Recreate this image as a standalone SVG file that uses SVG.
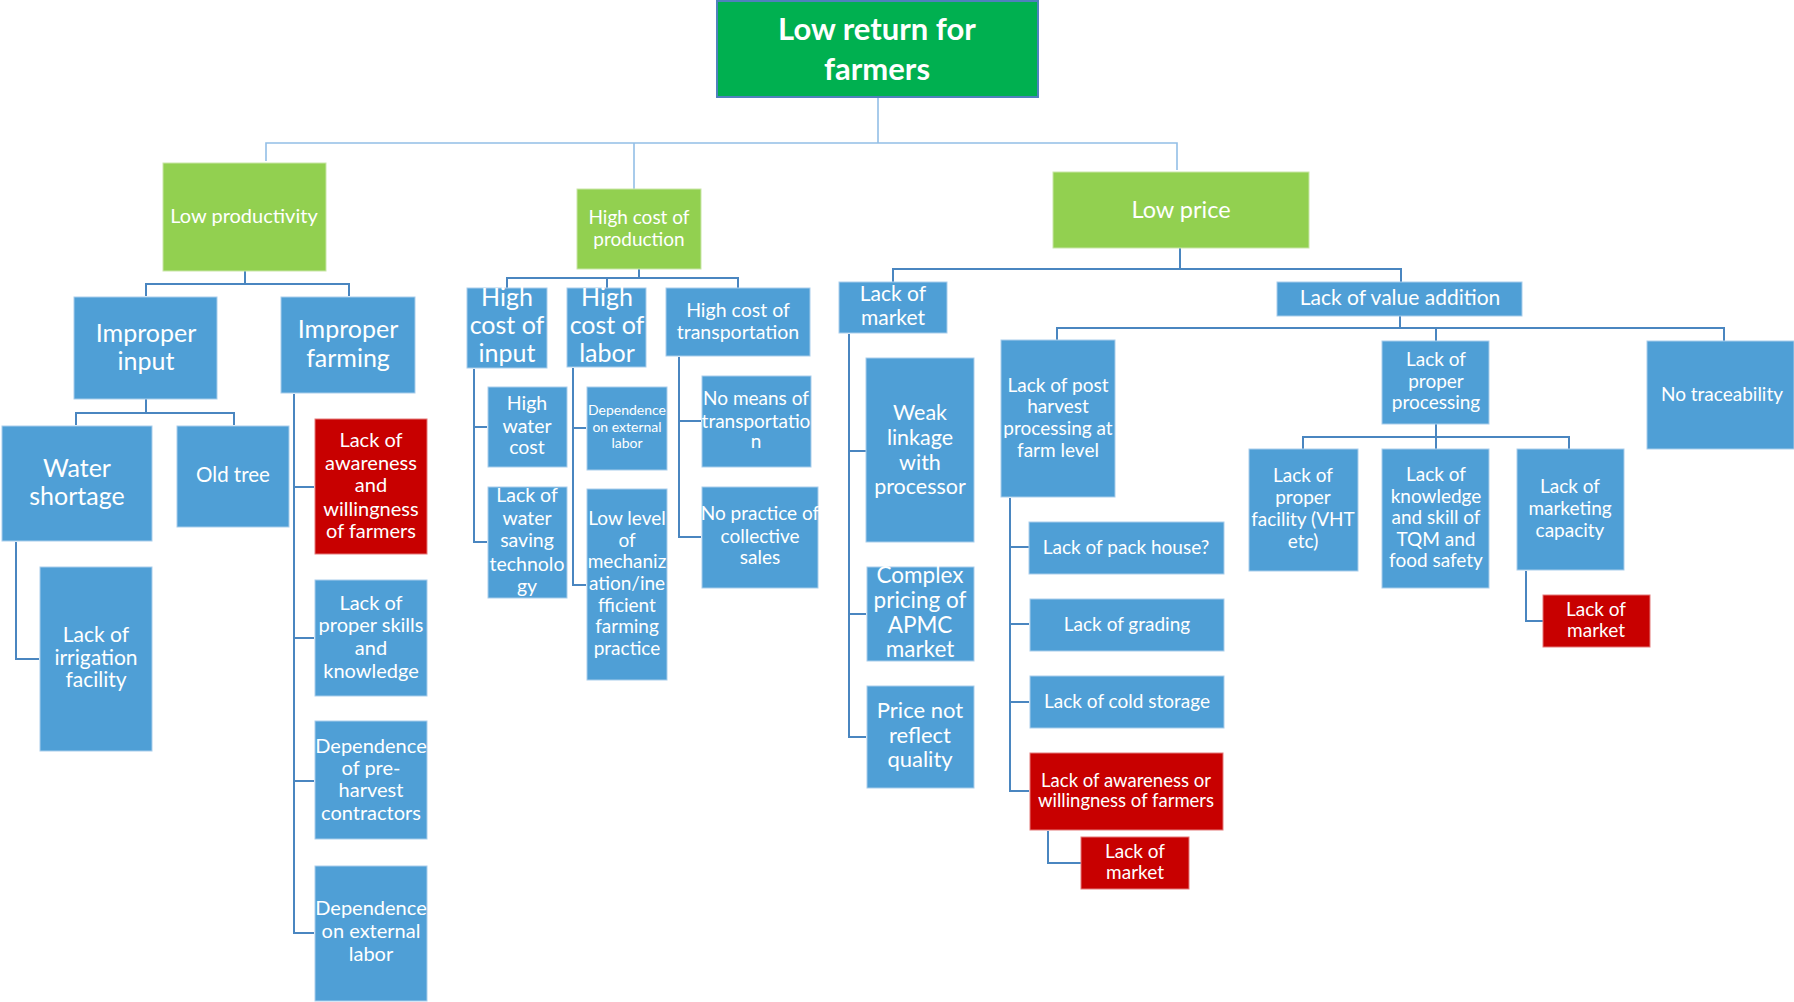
<svg xmlns="http://www.w3.org/2000/svg" width="1794" height="1002" viewBox="0 0 1794 1002">
  <style>
    .bg { fill: #ffffff; }
    .root { fill: #00B050; stroke: #4F81BD; stroke-width: 2; }
    .lvl1 { fill: #92D050; stroke: #C9E6A8; stroke-width: 1; }
    .box { fill: #4F9FD6; stroke: #A9CDEB; stroke-width: 1; }
    .red { fill: #C80000; stroke: #E47A7A; stroke-width: 1; }
    .t { font-family: Lato, "Liberation Sans", Arial, sans-serif; fill: #ffffff; text-anchor: middle; }
    .tb { font-weight: bold; }
    .link { fill: none; stroke: #4A86C0; stroke-width: 2; }
    .link-top { fill: none; stroke: #93BFE6; stroke-width: 1.6; }
  </style>
  <rect class="bg" x="0" y="0" width="1794" height="1002"/>

  <!-- connectors -->
  <g id="connectors">
    <path class="link-top" d="M878,97 V143 M266,161 V143 H1177 V170 M634,143 V189"/>
    <path class="link" d="M245,271 V284 M146,296 V284 H349 V296"/>
    <path class="link" d="M146,399 V413 M76,425 V413 H234 V425"/>
    <path class="link" d="M16,542 V659 H39"/>
    <path class="link" d="M294,394 V933 H314 M294,487 H314 M294,638 H314 M294,781 H314"/>
    <path class="link" d="M639,269 V278 M507,288 V278 H738 V288 M607,278 V288"/>
    <path class="link" d="M474,369 V542 H487 M474,427 H487"/>
    <path class="link" d="M573,368 V585 H586 M573,428 H586"/>
    <path class="link" d="M679,357 V537 H701 M679,421 H701"/>
    <path class="link" d="M1180,248 V269 M893,282 V269 H1401 V282"/>
    <path class="link" d="M849,334 V737 H866 M849,451 H866 M849,614 H866"/>
    <path class="link" d="M1400,316 V328 M1057,340 V328 H1724 V341 M1436,328 V341"/>
    <path class="link" d="M1010,498 V791 H1029 M1010,547 H1029 M1010,624 H1029 M1010,702 H1029"/>
    <path class="link" d="M1048,831 V863 H1081"/>
    <path class="link" d="M1436,424 V437 M1303,449 V437 H1569 V449 M1436,437 V449"/>
    <path class="link" d="M1526,571 V621 H1543"/>
  </g>

  <!-- root -->
  <g id="n-root">
    <rect class="root" x="717" y="1" width="321" height="96"/>
    <text class="t tb" font-size="31" x="877"><tspan x="877" y="40">Low return for</tspan><tspan x="877" y="80">farmers</tspan></text>
  </g>

  <!-- first level -->
  <g id="n-low-productivity">
    <rect class="lvl1" x="163" y="163" width="163" height="108"/>
    <text class="t" font-size="20" x="244" y="223">Low productivity</text>
  </g>
  <g id="n-high-cost-production">
    <rect class="lvl1" x="577" y="189" width="124" height="80"/>
    <text class="t" font-size="19"><tspan x="639" y="224">High cost of</tspan><tspan x="639" y="246">production</tspan></text>
  </g>
  <g id="n-low-price">
    <rect class="lvl1" x="1053" y="172" width="256" height="76"/>
    <text class="t" font-size="23.5" x="1181" y="218">Low price</text>
  </g>

  <!-- low productivity branch -->
  <g id="n-improper-input">
    <rect class="box" x="74" y="297" width="143" height="102"/>
    <text class="t" font-size="25"><tspan x="146" y="342">Improper</tspan><tspan x="146" y="370">input</tspan></text>
  </g>
  <g id="n-improper-farming">
    <rect class="box" x="281" y="297" width="134" height="96"/>
    <text class="t" font-size="25"><tspan x="348" y="338">Improper</tspan><tspan x="348" y="367">farming</tspan></text>
  </g>
  <g id="n-water-shortage">
    <rect class="box" x="2" y="426" width="150" height="115"/>
    <text class="t" font-size="25"><tspan x="77" y="477">Water</tspan><tspan x="77" y="505">shortage</tspan></text>
  </g>
  <g id="n-old-tree">
    <rect class="box" x="177" y="426" width="112" height="101"/>
    <text class="t" font-size="20.5" x="233" y="482">Old tree</text>
  </g>
  <g id="n-irrigation">
    <rect class="box" x="40" y="567" width="112" height="184"/>
    <text class="t" font-size="21"><tspan x="96" y="642">Lack of</tspan><tspan x="96" y="665">irrigation</tspan><tspan x="96" y="687">facility</tspan></text>
  </g>
  <g id="n-awareness-willingness">
    <rect class="red" x="315" y="419" width="112" height="135"/>
    <text class="t" font-size="20"><tspan x="371" y="447">Lack of</tspan><tspan x="371" y="470">awareness</tspan><tspan x="371" y="492">and</tspan><tspan x="371" y="516">willingness</tspan><tspan x="371" y="538">of farmers</tspan></text>
  </g>
  <g id="n-skills-knowledge">
    <rect class="box" x="315" y="580" width="112" height="116"/>
    <text class="t" font-size="20"><tspan x="371" y="610">Lack of</tspan><tspan x="371" y="632">proper skills</tspan><tspan x="371" y="655">and</tspan><tspan x="371" y="678">knowledge</tspan></text>
  </g>
  <g id="n-pre-harvest-contractors">
    <rect class="box" x="315" y="721" width="112" height="118"/>
    <text class="t" font-size="20"><tspan x="371" y="753">Dependence</tspan><tspan x="371" y="775">of pre-</tspan><tspan x="371" y="797">harvest</tspan><tspan x="371" y="820">contractors</tspan></text>
  </g>
  <g id="n-external-labor-farming">
    <rect class="box" x="315" y="866" width="112" height="135"/>
    <text class="t" font-size="20"><tspan x="371" y="915">Dependence</tspan><tspan x="371" y="938">on external</tspan><tspan x="371" y="961">labor</tspan></text>
  </g>

  <!-- high cost of production branch -->
  <g id="n-cost-input">
    <rect class="box" x="467" y="288" width="80" height="80"/>
    <text class="t" font-size="25"><tspan x="507" y="306">High</tspan><tspan x="507" y="334">cost of</tspan><tspan x="507" y="362">input</tspan></text>
  </g>
  <g id="n-cost-labor">
    <rect class="box" x="567" y="288" width="79" height="79"/>
    <text class="t" font-size="25"><tspan x="607" y="306">High</tspan><tspan x="607" y="334">cost of</tspan><tspan x="607" y="362">labor</tspan></text>
  </g>
  <g id="n-cost-transport">
    <rect class="box" x="666" y="288" width="144" height="68"/>
    <text class="t" font-size="19.5"><tspan x="738" y="317">High cost of</tspan><tspan x="738" y="339">transportation</tspan></text>
  </g>
  <g id="n-water-cost">
    <rect class="box" x="488" y="387" width="79" height="80"/>
    <text class="t" font-size="19.5"><tspan x="527" y="410">High</tspan><tspan x="527" y="433">water</tspan><tspan x="527" y="454">cost</tspan></text>
  </g>
  <g id="n-water-saving">
    <rect class="box" x="488" y="487" width="79" height="111"/>
    <text class="t" font-size="19.5"><tspan x="527" y="502">Lack of</tspan><tspan x="527" y="525">water</tspan><tspan x="527" y="547">saving</tspan><tspan x="527" y="571">technolo</tspan><tspan x="527" y="593">gy</tspan></text>
  </g>
  <g id="n-external-labor-cost">
    <rect class="box" x="587" y="387" width="80" height="83"/>
    <text class="t" font-size="14"><tspan x="627" y="415">Dependence</tspan><tspan x="627" y="432">on external</tspan><tspan x="627" y="448">labor</tspan></text>
  </g>
  <g id="n-mechanization">
    <rect class="box" x="587" y="489" width="80" height="191"/>
    <text class="t" font-size="19"><tspan x="627" y="525">Low level</tspan><tspan x="627" y="547">of</tspan><tspan x="627" y="568">mechaniz</tspan><tspan x="627" y="590">ation/ine</tspan><tspan x="627" y="612">fficient</tspan><tspan x="627" y="633">farming</tspan><tspan x="627" y="655">practice</tspan></text>
  </g>
  <g id="n-transport-means">
    <rect class="box" x="702" y="376" width="109" height="91"/>
    <text class="t" font-size="19"><tspan x="756" y="405">No means of</tspan><tspan x="756" y="428">transportatio</tspan><tspan x="756" y="448">n</tspan></text>
  </g>
  <g id="n-collective-sales">
    <rect class="box" x="702" y="487" width="116" height="101"/>
    <text class="t" font-size="19"><tspan x="760" y="520">No practice of</tspan><tspan x="760" y="543">collective</tspan><tspan x="760" y="564">sales</tspan></text>
  </g>

  <!-- low price branch: market -->
  <g id="n-lack-market">
    <rect class="box" x="839" y="282" width="108" height="51"/>
    <text class="t" font-size="21"><tspan x="893" y="301">Lack of</tspan><tspan x="893" y="325">market</tspan></text>
  </g>
  <g id="n-weak-linkage">
    <rect class="box" x="866" y="358" width="108" height="184"/>
    <text class="t" font-size="21.5"><tspan x="920" y="420">Weak</tspan><tspan x="920" y="445">linkage</tspan><tspan x="920" y="470">with</tspan><tspan x="920" y="494">processor</tspan></text>
  </g>
  <g id="n-apmc-pricing">
    <rect class="box" x="867" y="567" width="107" height="94"/>
    <text class="t" font-size="22.5"><tspan x="920" y="583">Complex</tspan><tspan x="920" y="608">pricing of</tspan><tspan x="920" y="633">APMC</tspan><tspan x="920" y="657">market</tspan></text>
  </g>
  <g id="n-price-quality">
    <rect class="box" x="867" y="686" width="107" height="102"/>
    <text class="t" font-size="22"><tspan x="920" y="718">Price not</tspan><tspan x="920" y="743">reflect</tspan><tspan x="920" y="767">quality</tspan></text>
  </g>

  <!-- low price branch: value addition -->
  <g id="n-value-addition">
    <rect class="box" x="1277" y="282" width="245" height="34"/>
    <text class="t" font-size="21" x="1400" y="305">Lack of value addition</text>
  </g>
  <g id="n-post-harvest">
    <rect class="box" x="1001" y="340" width="114" height="157"/>
    <text class="t" font-size="19"><tspan x="1058" y="392">Lack of post</tspan><tspan x="1058" y="413">harvest</tspan><tspan x="1058" y="435">processing at</tspan><tspan x="1058" y="457">farm level</tspan></text>
  </g>
  <g id="n-pack-house">
    <rect class="box" x="1029" y="522" width="195" height="52"/>
    <text class="t" font-size="19" x="1126" y="554">Lack of pack house?</text>
  </g>
  <g id="n-grading">
    <rect class="box" x="1030" y="599" width="194" height="52"/>
    <text class="t" font-size="19" x="1127" y="631">Lack of grading</text>
  </g>
  <g id="n-cold-storage">
    <rect class="box" x="1030" y="676" width="194" height="52"/>
    <text class="t" font-size="19" x="1127" y="708">Lack of cold storage</text>
  </g>
  <g id="n-awareness-or-willingness">
    <rect class="red" x="1030" y="753" width="193" height="77"/>
    <text class="t" font-size="18.5"><tspan x="1126" y="787">Lack of awareness or</tspan><tspan x="1126" y="807">willingness of  farmers</tspan></text>
  </g>
  <g id="n-market-red-1">
    <rect class="red" x="1081" y="837" width="108" height="52"/>
    <text class="t" font-size="19"><tspan x="1135" y="858">Lack of</tspan><tspan x="1135" y="879">market</tspan></text>
  </g>
  <g id="n-proper-processing">
    <rect class="box" x="1382" y="341" width="107" height="83"/>
    <text class="t" font-size="19"><tspan x="1436" y="366">Lack of</tspan><tspan x="1436" y="388">proper</tspan><tspan x="1436" y="409">processing</tspan></text>
  </g>
  <g id="n-traceability">
    <rect class="box" x="1647" y="341" width="147" height="108"/>
    <text class="t" font-size="19" x="1722" y="401">No traceability</text>
  </g>
  <g id="n-proper-facility">
    <rect class="box" x="1249" y="449" width="109" height="122"/>
    <text class="t" font-size="19"><tspan x="1303" y="482">Lack of</tspan><tspan x="1303" y="504">proper</tspan><tspan x="1303" y="526">facility (VHT</tspan><tspan x="1303" y="548">etc)</tspan></text>
  </g>
  <g id="n-tqm-knowledge">
    <rect class="box" x="1382" y="449" width="107" height="139"/>
    <text class="t" font-size="19"><tspan x="1436" y="481">Lack of</tspan><tspan x="1436" y="503">knowledge</tspan><tspan x="1436" y="524">and skill of</tspan><tspan x="1436" y="546">TQM and</tspan><tspan x="1436" y="567">food safety</tspan></text>
  </g>
  <g id="n-marketing-capacity">
    <rect class="box" x="1517" y="449" width="107" height="121"/>
    <text class="t" font-size="19"><tspan x="1570" y="493">Lack of</tspan><tspan x="1570" y="515">marketing</tspan><tspan x="1570" y="537">capacity</tspan></text>
  </g>
  <g id="n-market-red-2">
    <rect class="red" x="1543" y="595" width="107" height="52"/>
    <text class="t" font-size="19"><tspan x="1596" y="616">Lack of</tspan><tspan x="1596" y="637">market</tspan></text>
  </g>
</svg>
